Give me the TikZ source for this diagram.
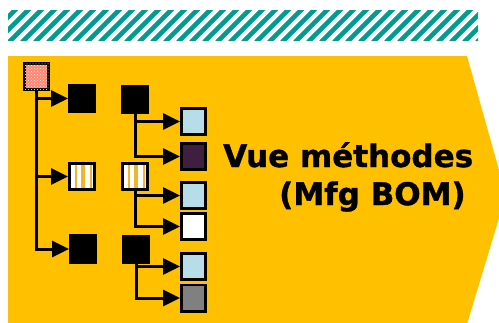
\documentclass[tikz,border=0pt]{standalone}
\usepackage{fontspec}
\newfontfamily\vfont{DejaVu Sans}[BoldFeatures={FakeBold=1.2}]
\usetikzlibrary{arrows.meta,patterns,calc}
\definecolor{chev}{HTML}{FFC000}
\definecolor{teal}{HTML}{009C8F}
\definecolor{lblue}{HTML}{B7DEE8}
\definecolor{dpurple}{HTML}{3F1F40}
\definecolor{salmon}{HTML}{FF8572}
\definecolor{stripe}{HTML}{F2B42A}
\tikzset{
  hatchline/.style={teal, line width=4.6pt},
  child/.style={draw=black, line width=2.8pt, minimum width=24.2pt, minimum height=26.2pt, inner sep=0pt},
  blk/.style={draw=black, fill=black, line width=0.8pt, minimum width=27.2pt, minimum height=28.7pt, inner sep=0pt},
  stripebox/.style={draw=black, fill=white, line width=2.8pt, minimum width=25.2pt, minimum height=26.2pt, inner sep=0pt,
    path picture={
      \foreach \f/\w in {0.27/1.6pt,0.5/1.2pt,0.58/1.4pt,0.86/1.6pt}
        \draw[stripe, line width=\w]
          ($(path picture bounding box.south west)!\f!(path picture bounding box.south east)$)
          -- ($(path picture bounding box.north west)!\f!(path picture bounding box.north east)$);
    }},
  rootbox/.style={draw=black, line width=2.8pt, fill=salmon, minimum width=24.2pt, minimum height=26.2pt, inner sep=0pt,
    postaction={pattern=crosshatch dots, pattern color=white!85!salmon}},
  link/.style={black, line width=3pt, -{Triangle[length=17pt,width=16pt]}},
  lbl/.style={font=\vfont\bfseries\fontsize{31}{38}\selectfont, inner sep=0pt, anchor=base west}
}
\begin{document}
\begin{tikzpicture}[x=1pt,y=-1pt]
\useasboundingbox (0,0) rectangle (499,322);
% hatched band
\begin{scope}
  \clip (8,10) rectangle (478,40.5);
  \foreach \i in {0,...,40}
    \draw[hatchline] (\i*13-30,42) -- ++(34,-34);
\end{scope}
% chevron
\begin{scope}
  \clip (0,0) rectangle (499,322);
  \fill[chev] (8,56) -- (467,56) -- (506,195) -- (464,334) -- (8,334) -- cycle;
\end{scope}
% nodes
\node[rootbox] (root) at (36.5,76.5) {};
\node[blk] (n1) at (82,98.5) {};
\node[stripebox] (n2) at (82,176.5) {};
\node[blk] (n3) at (83,249) {};
\node[blk] (A) at (135,99.5) {};
\node[stripebox] (B) at (135,176.5) {};
\node[blk] (C) at (136,249.5) {};
\node[child, fill=lblue] (a1) at (193.5,121.5) {};
\node[child, fill=dpurple] (a2) at (193.5,156.5) {};
\node[child, fill=lblue] (b1) at (193.5,195.5) {};
\node[child, fill=white] (b2) at (193.5,226.5) {};
\node[child, fill=lblue] (c1) at (193.5,266.5) {};
\node[child, fill=gray] (c2) at (193.5,298) {};
% connectors
\draw[link] (root.south) |- (n1.west);
\draw[link] (root.south) |- (n2.west);
\draw[link] (root.south) |- (n3.west);
\draw[link] (A.south) |- (a1.west);
\draw[link] (A.south) |- (a2.west);
\draw[link] (B.south) |- (b1.west);
\draw[link] (B.south) |- (b2.west);
\draw[link] (C.south) |- (c1.west);
\draw[link] (C.south) |- (c2.west);
% text
\node[lbl] (t1) at (223,167) {Vue méthodes};
\node[lbl] (t2) at (279,205) {(Mfg BOM)};
\end{tikzpicture}
\end{document}
